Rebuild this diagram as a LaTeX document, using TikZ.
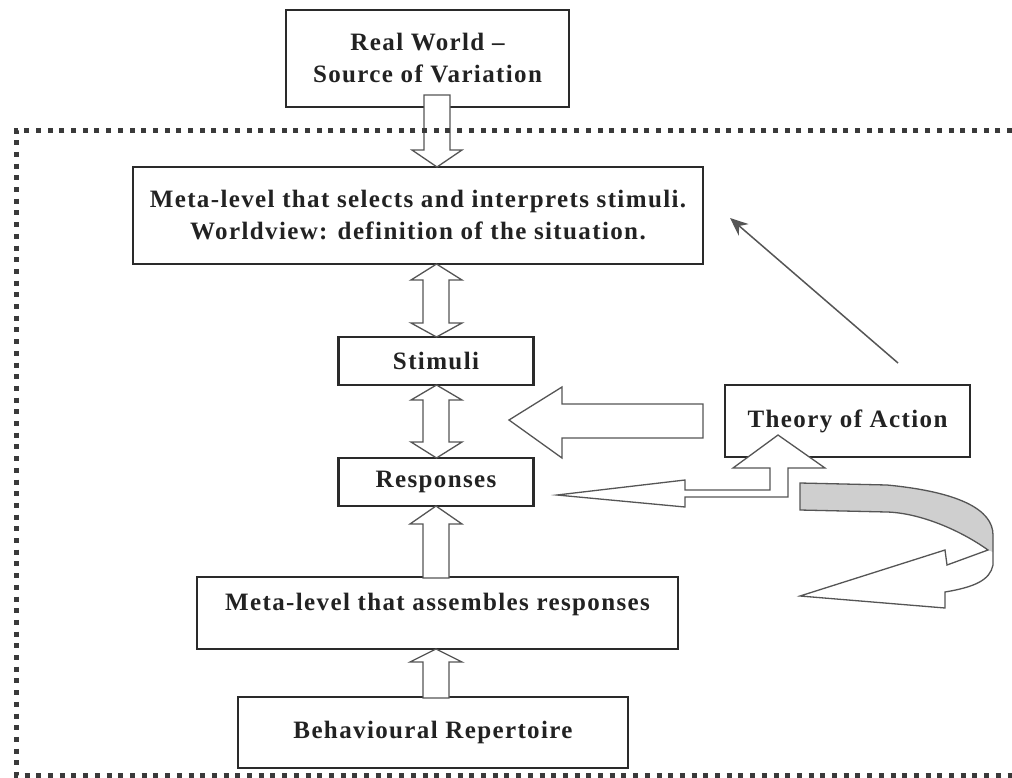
\documentclass[tikz,border=0pt]{standalone}
\usepackage{fontspec}
\setmainfont{Liberation Serif}[LetterSpace=5.5]
\usetikzlibrary{arrows.meta}
\definecolor{boxline}{HTML}{2A2A2A}
\definecolor{arrline}{HTML}{555555}
\definecolor{dotc}{HTML}{3A3A3A}
\definecolor{txt}{HTML}{222222}
\tikzset{
  box/.style={draw=boxline, line width=2.2pt, fill=white, inner sep=0pt, align=center,
    text=txt, font=\fontsize{25}{32}\selectfont\bfseries},
  blockarrow/.style={draw=arrline, line width=1.3pt, fill=white, line join=miter},
  frame/.style={draw=dotc, line width=5pt, dash pattern=on 5pt off 6.7pt},
}
\begin{document}
\begin{tikzpicture}[x=1pt,y=-1pt]
\useasboundingbox (0,0) rectangle (1012,777);
\fill[white] (0,0) rectangle (1012,777);

% boxes
\node[box, minimum width=283pt, minimum height=97pt] (real) at (427.5,58.5) {Real World --\\Source of Variation};
\node[box, minimum width=570pt, minimum height=97pt] (meta1) at (418,215.5) {Meta-level that selects and interprets stimuli.\\Worldview: definition of the situation.};
\node[box, minimum width=195pt, minimum height=48pt] (stim) at (436,361) {Stimuli};
\node[box, minimum width=195pt, minimum height=48pt] (resp) at (436,482) {Responses};
\node[box, minimum width=481pt, minimum height=72pt] (meta2) at (437.5,613) {\raisebox{22pt}{Meta-level that assembles responses}};
\node[box, minimum width=390pt, minimum height=71pt] (behav) at (433,732.5) {\raisebox{6pt}{Behavioural Repertoire}};
\node[box, minimum width=245pt, minimum height=72pt] (theory) at (847.5,421) {Theory of Action};

% vertical block arrows
% Real World -> meta1 (down)
\path[blockarrow] (424,95) -- (450,95) -- (450,150) -- (462,150) -- (437,167) -- (412,150) -- (424,150) -- cycle;
% meta1 <-> stimuli
\path[blockarrow] (436.5,264) -- (462,280) -- (449,280) -- (449,323) -- (462,323) -- (436.5,337) -- (411,323) -- (423,323) -- (423,280) -- (411,280) -- cycle;
% stimuli <-> responses
\path[blockarrow] (436.5,385) -- (462,400) -- (449,400) -- (449,442) -- (462,442) -- (436.5,458) -- (411,442) -- (423,442) -- (423,400) -- (411,400) -- cycle;
% meta2 -> responses (up)
\path[blockarrow] (436,506) -- (462,524) -- (449,524) -- (449,578) -- (423,578) -- (423,524) -- (410,524) -- cycle;
% behav -> meta2 (up)
\path[blockarrow] (436,649) -- (462,662) -- (449,662) -- (449,698) -- (423,698) -- (423,662) -- (410,662) -- cycle;

% big left arrow from theory towards stimuli/responses
\path[blockarrow] (509,420) -- (562,387) -- (562,404) -- (703,404) -- (703,438) -- (562,438) -- (562,458) -- cycle;

% bent arrow: up into Theory of Action, tail pointing left at Responses
\path[blockarrow] (557,495) -- (685,480) -- (685,490) -- (770,490) -- (770,468) -- (733,468) -- (778,435) -- (825,468) -- (788,468) -- (788,497) -- (685,497) -- (685,507) -- cycle;

% curved arrow
\fill[gray!38] (800,483) -- (887,485) .. controls (960,492) and (993,510) .. (993,535) -- (993,552) -- (988,550) .. controls (960,530) and (920,513) .. (887,512) -- (800,510) -- cycle;
\draw[arrline, line width=1.3pt, line join=miter] (800,483) -- (887,485) .. controls (960,492) and (993,510) .. (993,535) -- (993,565) .. controls (990,580) and (975,587) .. (945,592) -- (945,608) -- (800,596) -- (945,550) -- (947,565) -- (988,550) .. controls (960,530) and (920,513) .. (887,512) -- (800,510) -- cycle;

% thin arrow from theory area to meta1
\coordinate (tail) at (898,363);
\coordinate (tip) at (730,218);
\draw[arrline, line width=1.5pt, -{Stealth[length=18pt,width=15pt]}] (tail) -- (tip);

% dotted frame
\draw[frame] (1012,130) -- (16,130) -- (16,775) -- (1012,775);
\end{tikzpicture}
\end{document}
